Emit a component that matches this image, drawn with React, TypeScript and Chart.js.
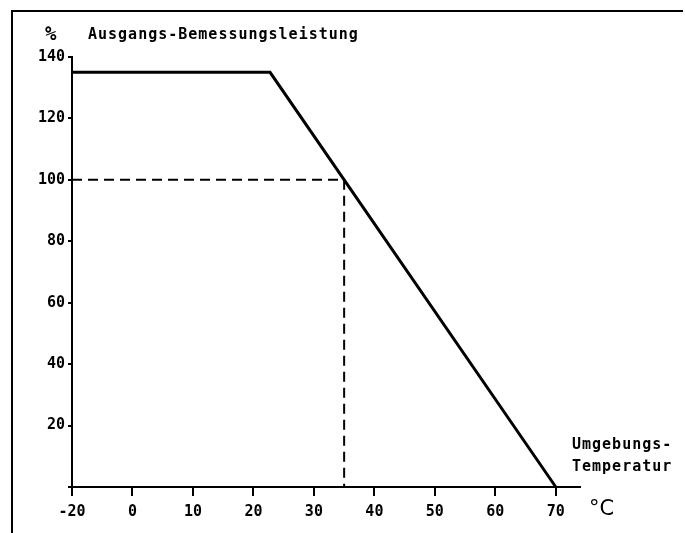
import React, { useEffect, useRef } from 'react';
import { Chart, registerables } from 'chart.js';

Chart.register(...registerables);

// Temperatures in °C (axis is broken between -20 and 0)
const xTickTemps = [-20, 0, 10, 20, 30, 40, 50, 60, 70];
const yTickValues = [0, 20, 40, 60, 80, 100, 120, 140];
// Derating curve: output rating (%) vs ambient temperature (°C)
const deratingTemps = [-20, 22.75, 70];
const deratingPower = [135, 135, 0];
// Rated point guide lines (100 % at 35 °C)
const ratedTemps = [-20, 35, 35];
const ratedPower = [100, 100, 0];
const yUnit = '%';
const yTitle = 'Ausgangs-Bemessungsleistung';
const xTitleLines = ['Umgebungs-', 'Temperatur'];
const xUnit = '°C';

// broken axis: the -20..0 segment is drawn at half scale
const axisX = (t: number) => (t < 0 ? t / 2 : t);

const MONO = '"DejaVu Sans Mono", monospace';

const decor = {
  id: 'decor',
  afterDraw(chart: any) {
    const ctx = chart.ctx as CanvasRenderingContext2D;
    const ca = chart.chartArea;
    ctx.save();
    // frame (left + top)
    ctx.strokeStyle = '#000';
    ctx.lineWidth = 2;
    ctx.beginPath();
    ctx.moveTo(12, chart.height);
    ctx.lineTo(12, 11);
    ctx.lineTo(683, 11);
    ctx.stroke();

    ctx.fillStyle = '#000';
    ctx.textBaseline = 'middle';
    ctx.textAlign = 'left';
    ctx.font = 'bold 19px ' + MONO;
    ctx.fillText(yUnit, ca.left - 27, 35);
    (ctx as any).letterSpacing = '1px';
    ctx.font = 'bold 15px ' + MONO;
    ctx.fillText(yTitle, ca.left + 16, 35);
    ctx.fillText(xTitleLines[0], ca.right - 8, 445);
    ctx.fillText(xTitleLines[1], ca.right - 8, 467);
    (ctx as any).letterSpacing = '0px';
    ctx.font = '21px "DejaVu Sans", sans-serif';
    ctx.fillText(xUnit, ca.right + 9, 510);
    ctx.restore();
  },
};

export default function App() {
  const ref = useRef<HTMLCanvasElement>(null);
  useEffect(() => {
    if (!ref.current) return;
    const chart = new Chart(ref.current, {
      type: 'scatter',
      data: {
        datasets: [
          {
            data: deratingTemps.map((t, i) => ({ x: axisX(t), y: deratingPower[i] })),
            showLine: true,
            borderColor: '#000',
            borderWidth: 3,
            pointRadius: 0,
            clip: false as any,
          },
          {
            data: ratedTemps.map((t, i) => ({ x: axisX(t), y: ratedPower[i] })),
            showLine: true,
            borderColor: '#000',
            borderWidth: 2,
            borderDash: [10, 6],
            pointRadius: 0,
            clip: false as any,
          },
        ],
      },
      options: {
        animation: false,
        responsive: false,
        maintainAspectRatio: false,
        layout: { padding: { left: 12, right: 105, top: 57, bottom: 6 } },
        plugins: { legend: { display: false }, tooltip: { enabled: false } },
        scales: {
          x: {
            type: 'linear',
            min: axisX(-20),
            max: 74,
            afterBuildTicks: (s: any) => {
              s.ticks = xTickTemps.map((t) => ({ value: axisX(t) }));
            },
            afterFit: (s: any) => {
              s.height = 40;
            },
            ticks: {
              autoSkip: false,
              maxRotation: 0,
              color: '#000',
              padding: 7,
              font: { family: MONO, size: 15, weight: 'bold' },
              callback: (v: any) => {
                const i = xTickTemps.findIndex((t) => axisX(t) === v);
                return i >= 0 ? String(xTickTemps[i]) : '';
              },
            },
            grid: { drawOnChartArea: false, drawTicks: true, tickLength: 9, color: '#000', lineWidth: 2 },
            border: { display: true, color: '#000', width: 2 },
          },
          y: {
            type: 'linear',
            min: 0,
            max: 140,
            afterBuildTicks: (s: any) => {
              s.ticks = yTickValues.map((v) => ({ value: v }));
            },
            afterFit: (s: any) => {
              s.width = 60;
            },
            ticks: {
              color: '#000',
              padding: 3,
              font: { family: MONO, size: 15, weight: 'bold' },
              callback: (v: any) => (v === 0 ? '' : String(v)),
            },
            grid: { drawOnChartArea: false, drawTicks: true, tickLength: 4, color: '#000', lineWidth: 2 },
            border: { display: true, color: '#000', width: 2 },
          },
        },
      },
      plugins: [decor],
    });
    return () => chart.destroy();
  }, []);
  return (
    <div style={{ position: 'fixed', left: 0, top: 0, width: 685, height: 533, background: '#fff' }}>
      <canvas ref={ref} width={685} height={533} style={{ display: 'block' }} />
    </div>
  );
}
